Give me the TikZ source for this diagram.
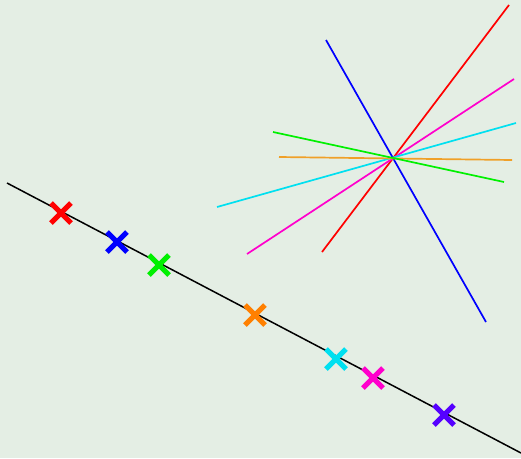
\documentclass[tikz,border=0pt]{standalone}
\usepackage{tikz}
\definecolor{my_bg}{HTML}{E4EEE4}
\definecolor{my_red}{HTML}{FF0000}
\definecolor{my_blue}{HTML}{0000FF}
\definecolor{my_green}{HTML}{00F000}
\definecolor{my_orange}{HTML}{FF8000}
\definecolor{my_gold}{HTML}{F0A028}
\definecolor{my_cyan}{HTML}{00E0F0}
\definecolor{my_magenta}{HTML}{FF00CC}
\definecolor{my_violet}{HTML}{5500FF}

\begin{document}
\begin{tikzpicture}[
    x=1pt, y=-1pt,
    ray/.style={line width=1.7pt},
    marker/.style={line width=5.2pt}
]

%% ---- Hintergrund ----
\fill[fill=my_bg] (0, 0) rectangle (521, 458);
\useasboundingbox (0, 0) rectangle (521, 458);

%% ---- Gerade ----
\coordinate (g1) at (7, 183);
\coordinate (g2) at (521, 453);
\draw[black, line width=1.5pt] (g1) -- (g2);

%% ---- Strahlenbuendel um den Schnittpunkt ----
\draw[ray, my_blue]    (326, 40)  -- (486, 322);
\draw[ray, my_red]     (322, 252) -- (509, 5);
\draw[ray, my_magenta] (247, 254) -- (514, 79);
\draw[ray, my_cyan]    (217, 207) -- (516, 123);
\draw[ray, my_gold]    (279, 157) -- (512, 160);
\draw[ray, my_green]   (273, 132) -- (504, 182);

%% ---- Kreuze auf der Geraden ----
\foreach \px/\py/\c in {61/213/my_red, 117/242/my_blue, 159/265/my_green,
                        255/315/my_orange, 336/359/my_cyan,
                        373/378/my_magenta, 444/415/my_violet} {
    \draw[marker, \c] (\px-10, \py-10) -- (\px+10, \py+10);
    \draw[marker, \c] (\px-10, \py+10) -- (\px+10, \py-10);
}

\end{tikzpicture}
\end{document}
